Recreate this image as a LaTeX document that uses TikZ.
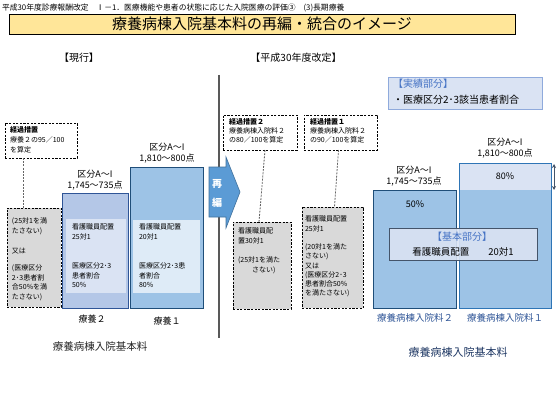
\documentclass[tikz,border=0pt]{standalone}
\usepackage{fontspec}
\setmainfont{Noto Sans CJK JP}
\usetikzlibrary{arrows.meta}
\definecolor{titlefill}{HTML}{FFE699}
\definecolor{bartwo}{HTML}{B4C7E7}
\definecolor{barone}{HTML}{9DC3E6}
\definecolor{innerA}{HTML}{DAE3F3}
\definecolor{innerB}{HTML}{DEEBF7}
\definecolor{darkblue}{HTML}{2F5597}
\definecolor{navy}{HTML}{1F4E79}
\definecolor{midblue}{HTML}{2E75B6}
\definecolor{textblue}{HTML}{4472C4}
\definecolor{grayfill}{HTML}{D9D9D9}
\definecolor{arrowblue}{HTML}{5B9BD5}
\definecolor{arrowedge}{HTML}{41719C}
\definecolor{lightedge}{HTML}{8FAADC}
\definecolor{slate}{HTML}{44546A}
\definecolor{deepnavy}{HTML}{1F3864}
\newcommand\myfs[2]{\fontsize{#1}{#2}\selectfont}
\begin{document}
\begin{tikzpicture}[x=1pt,y=-1pt,
  every node/.style={inner sep=0pt, outer sep=0pt},
  rbox/.style={anchor=north west, rectangle},
  kbox/.style={rbox, draw=black, line width=0.8pt, dash pattern=on 2.2pt off 1.4pt},
  gbox/.style={kbox, fill=grayfill},
  txt/.style={anchor=north west, align=left},
  lbl/.style={font=\myfs{9}{11}, align=center},
  link/.style={draw=gray!80!black, line width=0.8pt, dash pattern=on 2pt off 1.2pt}]
\useasboundingbox (0,0) rectangle (560,420);
\fill[white] (0,0) rectangle (560,420);

% header and title
\node[anchor=west, font=\myfs{7.8}{9}] (hdr) at (2,8) {平成30年度診療報酬改定　Ⅰ－1．医療機能や患者の状態に応じた入院医療の評価③　(3)長期療養};
\node[rbox, draw=black, line width=0.8pt, fill=titlefill, minimum width=506, minimum height=20] (title) at (9,14) {};
\node[font=\myfs{15}{17}] (titletxt) at (title.center) {療養病棟入院基本料の再編・統合のイメージ};

\node[font=\myfs{10}{12}] (genko) at (79,58) {【現行】};
\node[font=\myfs{10}{12}] (kaitei) at (296,58) {【平成30年度改定】};

% divider
\coordinate (vtop) at (219,75);
\coordinate (vbot) at (219,338);
\draw[gray!70!black, line width=1.2pt] (vtop) -- (vbot);

% ---------- left: current ----------
\node[kbox, minimum width=72, minimum height=35] (k0) at (5,123) {};
\node[txt, font=\myfs{7}{10}] (k0t) at (10,127) {\textbf{経過措置}\\療養２の95／100\\を算定};
\node[gbox, minimum width=54, minimum height=99] (g0) at (7,208) {};
\node[txt, font=\myfs{7}{9.6}] (g0t) at (12,218) {(25対1を満\\たさない)\\[10pt]又は\\[8pt](医療区分\\2･3患者割\\合50\%を満\\たさない)};
\draw[link] ([xshift=18]k0.south west) -- ([xshift=16]g0.north west);

\node[rbox, draw=darkblue, line width=0.9pt, fill=bartwo, minimum width=66, minimum height=115] (r2) at (62,193) {};
\node[rbox, fill=innerA, minimum width=60, minimum height=74] (r2in) at (66,219) {};
\node[txt, font=\myfs{7}{9.5}] (r2t) at (72,224) {看護職員配置\\25対1\\[20pt]医療区分2･3\\患者割合\\50\%};
\node[lbl] (r2lbl) at (95,180) {区分A～I\\1,745～735点};
\node[font=\myfs{9}{11}] (r2name) at (92,319) {療養２};

\node[rbox, draw=navy, line width=0.9pt, fill=barone, minimum width=73, minimum height=141] (r1) at (130,167) {};
\node[rbox, fill=innerB, minimum width=67, minimum height=73] (r1in) at (133,220) {};
\node[txt, font=\myfs{7}{9.5}] (r1t) at (139,224) {看護職員配置\\20対1\\[20pt]医療区分2･3患\\者割合\\80\%};
\node[lbl] (r1lbl) at (167,153) {区分A～I\\1,810～800点};
\node[font=\myfs{9}{11}] (r1name) at (167,321) {療養１};

\node[font=\myfs{10.5}{12}, text=black!85] (leftbase) at (100,347) {療養病棟入院基本料};

% ---------- arrow ----------
\draw[fill=arrowblue, draw=arrowedge, line width=0.6pt] (209,167) -- (226,167) -- (226,157) -- (240,192) -- (226,228) -- (226,217) -- (209,217) -- cycle;
\node[font=\bfseries\myfs{10}{19}, text=white, align=center] (saihen) at (217,193) {再\\編};

% ---------- right: revised ----------
\node[kbox, minimum width=74, minimum height=35] (k2) at (223,115) {};
\node[txt, font=\myfs{7}{9}] (k2t) at (229,119) {\textbf{経過措置２}\\療養病棟入院料２\\の80／100を算定};
\node[kbox, minimum width=73, minimum height=35] (k1) at (304,115) {};
\node[txt, font=\myfs{7}{9}] (k1t) at (310,119) {\textbf{経過措置１}\\療養病棟入院料２\\の90／100を算定};

\node[gbox, minimum width=58, minimum height=87] (g2) at (233,222) {};
\node[txt, font=\myfs{7}{9.5}] (g2t) at (238,228) {看護職員配\\置30対1\\[10pt](25対1を満た\\\hspace{14pt}さない)};
\node[gbox, minimum width=61, minimum height=101] (g1) at (302,207) {};
\node[txt, font=\myfs{7}{9.3}] (g1t) at (305,216) {看護職員配置\\25対1\\[9pt](20対1を満た\\さない)\\又は\\(医療区分2･3\\患者割合50\%\\を満たさない)};
\draw[link] ([xshift=5]k2.south) -- ([xshift=-3]g2.north);
\draw[link] ([xshift=-2]k1.south) -- ([xshift=2]g1.north);

\node[rbox, draw=lightedge, line width=0.8pt, fill=innerA, minimum width=154, minimum height=32] (jis) at (388,77) {};
\node[txt, font=\myfs{10}{16}] (jist) at (393,79) {\textcolor{textblue}{【実績部分】}\\・医療区分2･3該当患者割合};

\node[rbox, draw=navy, line width=0.9pt, fill=barone, minimum width=83, minimum height=118] (b2) at (373,190) {};
\node[rbox, fill=barone, minimum width=92, minimum height=145] (b1) at (459,163) {};
\fill[innerA] (b1.north west) rectangle ([yshift=-27]b1.north east);
\draw[midblue, line width=0.9pt] (b1.north west) rectangle (b1.south east);
\node[font=\myfs{9}{11}] (p80) at (505,176) {80\%};
\node[font=\myfs{9}{11}] (p50) at (415,204) {50\%};
\node[lbl] (b2lbl) at (414,176) {区分A～I\\1,745～735点};
\node[lbl] (b1lbl) at (505,148) {区分A～I\\1,810～800点};

\node[rbox, draw=slate, line width=0.8pt, fill=innerA, fill opacity=0.9, minimum width=148, minimum height=32] (kihon) at (389,228) {};
\node[font=\myfs{10}{12}, text=textblue] (kihont) at (462,237) {【基本部分】};
\node[font=\myfs{9.5}{12}] (kihonn) at (463,252) {看護職員配置　　20対1};

\coordinate (da1) at (554,164);
\coordinate (da2) at (554,190);
\draw[slate, line width=0.8pt, {Stealth[length=4pt,width=4pt]}-{Stealth[length=4pt,width=4pt]}] (da1) -- (da2);

\node[font=\myfs{9.5}{12}, text=darkblue] (b2name) at (415,318) {療養病棟入院料２};
\node[font=\myfs{9.5}{12}, text=darkblue] (b1name) at (505,318) {療養病棟入院料１};
\node[font=\myfs{11}{13}, text=deepnavy] (rightbase) at (458,352) {療養病棟入院基本料};
\end{tikzpicture}
\end{document}
